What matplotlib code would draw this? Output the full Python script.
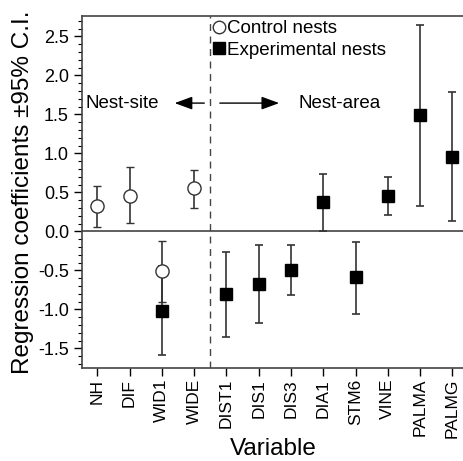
import matplotlib.pyplot as plt
from matplotlib.lines import Line2D

plt.rcParams['font.family'] = ['Liberation Sans', 'DejaVu Sans']

variables = ["NH", "DIF", "WID1", "WIDE", "DIST1", "DIS1", "DIS3", "DIA1",
             "STM6", "VINE", "PALMA", "PALMG"]

# control nests: index, estimate, lower, upper
ctrl_idx = [0, 1, 2, 3]
ctrl_val = [0.32, 0.46, -0.51, 0.55]
ctrl_lo = [0.06, 0.11, -0.91, 0.30]
ctrl_hi = [0.58, 0.82, -0.12, 0.79]

# experimental nests
exp_idx = [2, 4, 5, 6, 7, 8, 9, 10, 11]
exp_val = [-1.02, -0.80, -0.67, -0.49, 0.38, -0.59, 0.45, 1.49, 0.96]
exp_lo = [-1.59, -1.35, -1.18, -0.81, 0.01, -1.06, 0.21, 0.32, 0.13]
exp_hi = [-0.45, -0.26, -0.17, -0.18, 0.74, -0.13, 0.70, 2.65, 1.79]

fig = plt.figure(figsize=(4.64, 4.61), dpi=100)
ax = fig.add_axes([0.177, 0.202, 0.823, 0.763])

ecol = '#333333'
ax.axhline(0, color='#333333', lw=1.1, zorder=1)
ax.axvline(3.5, color='#444444', lw=1.0, ls=(0, (5, 4)), zorder=1)

ax.errorbar(exp_idx, exp_val,
            yerr=[[v - l for v, l in zip(exp_val, exp_lo)],
                  [h - v for v, h in zip(exp_val, exp_hi)]],
            fmt='s', color='black', ms=9, ecolor=ecol, elinewidth=1.2,
            capsize=2.8, capthick=1.2, zorder=3)
ax.errorbar(ctrl_idx, ctrl_val,
            yerr=[[v - l for v, l in zip(ctrl_val, ctrl_lo)],
                  [h - v for v, h in zip(ctrl_val, ctrl_hi)]],
            fmt='o', mfc='white', mec='#333333', mew=1.0, ms=9.5, ecolor=ecol,
            elinewidth=1.2, capsize=2.8, capthick=1.2, zorder=4)

# region labels
ax.annotate('', xy=(2.31, 1.645), xytext=(3.40, 1.645),
            arrowprops=dict(arrowstyle='-|>,head_length=0.6,head_width=0.22',
                            color='black', lw=1.0, mutation_scale=18))
ax.annotate('', xy=(5.72, 1.645), xytext=(3.71, 1.645),
            arrowprops=dict(arrowstyle='-|>,head_length=0.6,head_width=0.22',
                            color='black', lw=1.0, mutation_scale=18))
ax.text(-0.36, 1.645, 'Nest-site', fontsize=13.5, va='center', ha='left')
ax.text(6.22, 1.645, 'Nest-area', fontsize=13.5, va='center', ha='left')

handles = [Line2D([], [], ls='none', marker='o', mfc='white', mec='#333333', ms=9),
           Line2D([], [], ls='none', marker='s', color='black', ms=9)]
ax.legend(handles, ['Control nests', 'Experimental nests'], loc='upper left',
          bbox_to_anchor=(0.33, 1.01), frameon=False, fontsize=13.5, handlelength=0.4,
          handletextpad=0.2, borderaxespad=0, labelspacing=0.25)

ax.set_xlim(-0.47, 11.36)
ax.set_ylim(-1.75, 2.76)
ax.set_xticks(range(len(variables)))
ax.set_xticklabels(variables, rotation=90, fontsize=12.5)
ax.set_yticks([-1.5, -1.0, -0.5, 0.0, 0.5, 1.0, 1.5, 2.0, 2.5])
ax.set_yticklabels(['-1.5', '-1.0', '-0.5', '0.0', '0.5', '1.0', '1.5', '2.0', '2.5'], fontsize=13)
ax.set_yticks([i / 10 for i in range(-17, 28)], minor=True)
ax.tick_params(axis='y', which='major', length=6, width=1.0, direction='out')
ax.tick_params(axis='y', which='minor', length=3, width=0.8, direction='out')
ax.tick_params(axis='x', length=6, width=1.0, direction='out', pad=2)
ax.spines['right'].set_visible(False)
for s in ['left', 'top', 'bottom']:
    ax.spines[s].set_color('#444444')
    ax.spines[s].set_linewidth(1.2)

ax.set_xlabel('Variable', fontsize=17.5, labelpad=0)
ax.set_ylabel('Regression coefficients \u00b195% C.I.', fontsize=17.5, labelpad=3)

fig.savefig('out.png', dpi=100)
